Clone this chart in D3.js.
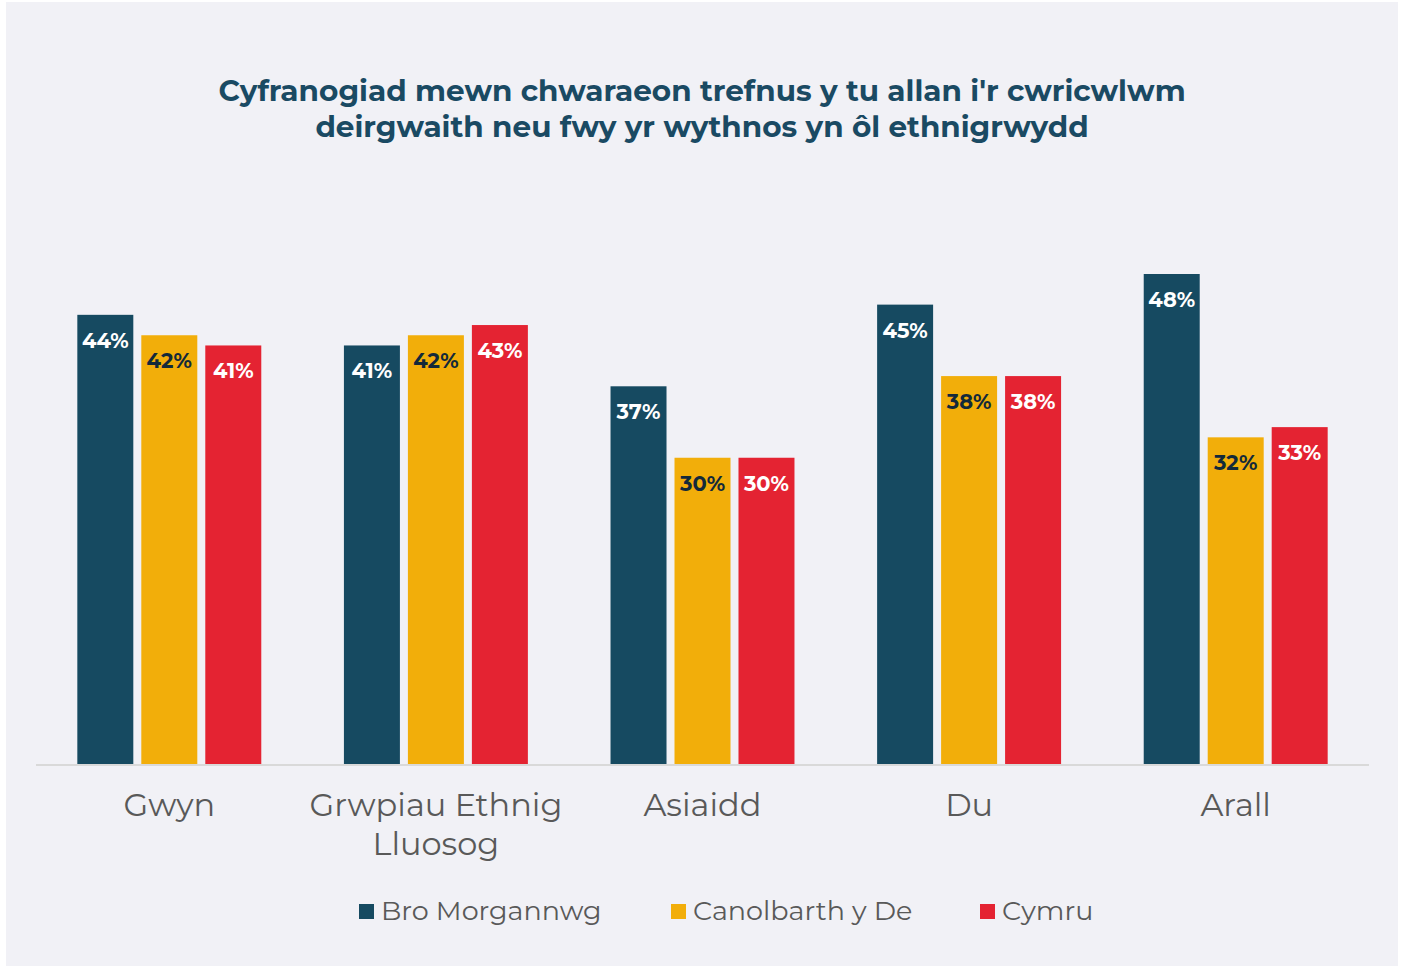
<!DOCTYPE html>
<html>
<head>
<meta charset="utf-8">
<script src="https://cdn.jsdelivr.net/npm/d3@7"></script>
<style>
  body { margin: 0; background: #ffffff; }
  svg { display: block; }
</style>
</head>
<body>
<svg width="1402" height="968"></svg>
<script>
'use strict';

// data
var categories = [['Gwyn'], ['Grwpiau Ethnig', 'Lluosog'], ['Asiaidd'], ['Du'], ['Arall']];
var seriesNames = ['Bro Morgannwg', 'Canolbarth y De', 'Cymru'];
var broMorgannwg = [44, 41, 37, 45, 48];
var canolbarth = [42, 42, 30, 38, 32];
var cymru = [41, 43, 30, 38, 33];
var titleLines = ["Cyfranogiad mewn chwaraeon trefnus y tu allan i'r cwricwlwm",
                  'deirgwaith neu fwy yr wythnos yn ôl ethnigrwydd'];

var colors = ['#164a61', '#f2ae0a', '#e42332'];
var labelColors = ['#ffffff', '#13293a', '#ffffff'];
var font = 'Montserrat, "Open Sans", Lato, sans-serif';

var svg = d3.select('svg');

// background panel
svg.append('rect')
    .attr('x', 6).attr('y', 2)
    .attr('width', 1392).attr('height', 964)
    .attr('fill', '#f1f1f6');

// title
svg.append('text')
    .attr('x', 702).attr('y', 101)
    .attr('text-anchor', 'middle')
    .attr('font-family', font)
    .attr('font-weight', 700)
    .attr('font-size', 29.5)
    .attr('fill', '#1a4a63')
    .selectAll('tspan')
    .data(titleLines)
    .enter().append('tspan')
        .attr('x', 702)
        .attr('dy', function(d, i){ return i === 0 ? 0 : 36; })
        .text(function(d){ return d; });

var rows = categories.map(function(c, i){
    return { key: c.join(' '), lines: c, values: [broMorgannwg[i], canolbarth[i], cymru[i]] };
});

var x0 = d3.scaleBand()
    .domain(rows.map(function(d){ return d.key; }))
    .range([36, 1369])
    .paddingInner(0.31)
    .paddingOuter(0.155);

var x1 = d3.scaleBand()
    .domain(d3.range(seriesNames.length))
    .range([0, x0.bandwidth()])
    .paddingInner(0.125);

var y = d3.scaleLinear()
    .domain([0, 48])
    .range([764, 274]);

var groups = svg.selectAll('g.group')
    .data(rows)
    .enter().append('g')
        .attr('class', 'group')
        .attr('transform', function(d){ return 'translate(' + x0(d.key) + ',0)'; });

var bars = groups.selectAll('g.bar')
    .data(function(d){ return d.values.map(function(v, i){ return { v: v, i: i }; }); })
    .enter().append('g')
        .attr('class', 'bar');

bars.append('rect')
    .attr('x', function(d){ return x1(d.i); })
    .attr('y', function(d){ return y(d.v); })
    .attr('width', x1.bandwidth())
    .attr('height', function(d){ return y(0) - y(d.v); })
    .attr('fill', function(d){ return colors[d.i]; });

bars.append('text')
    .attr('x', function(d){ return x1(d.i) + x1.bandwidth() / 2; })
    .attr('y', function(d){ return y(d.v) + 33; })
    .attr('text-anchor', 'middle')
    .attr('font-family', font)
    .attr('font-weight', 700)
    .attr('font-size', 21)
    .attr('fill', function(d){ return labelColors[d.i]; })
    .text(function(d){ return d.v + '%'; });

// baseline
svg.append('line')
    .attr('x1', 36).attr('x2', 1369)
    .attr('y1', y(0) + 1).attr('y2', y(0) + 1)
    .attr('stroke', '#d9d9d9')
    .attr('stroke-width', 2);

// category labels
svg.selectAll('text.cat')
    .data(rows)
    .enter().append('text')
        .attr('class', 'cat')
        .attr('text-anchor', 'middle')
        .attr('font-family', font)
        .attr('font-size', 32)
        .attr('fill', '#595959')
        .each(function(d){
            var cx = x0(d.key) + x0.bandwidth() / 2;
            d3.select(this).selectAll('tspan')
                .data(d.lines)
                .enter().append('tspan')
                    .attr('x', cx)
                    .attr('y', function(l, i){ return 816 + i * 39; })
                    .text(function(l){ return l; });
        });

// legend
var legendX = [359, 671, 980];
var legend = svg.selectAll('g.legend')
    .data(seriesNames)
    .enter().append('g')
        .attr('class', 'legend')
        .attr('transform', function(d, i){ return 'translate(' + legendX[i] + ',904)'; });

legend.append('rect')
    .attr('width', 15).attr('height', 15)
    .attr('fill', function(d, i){ return colors[i]; });

legend.append('text')
    .attr('x', 22).attr('y', 16)
    .attr('font-family', font)
    .attr('font-size', 27)
    .attr('fill', '#595959')
    .text(function(d){ return d; });
</script>
</body>
</html>
